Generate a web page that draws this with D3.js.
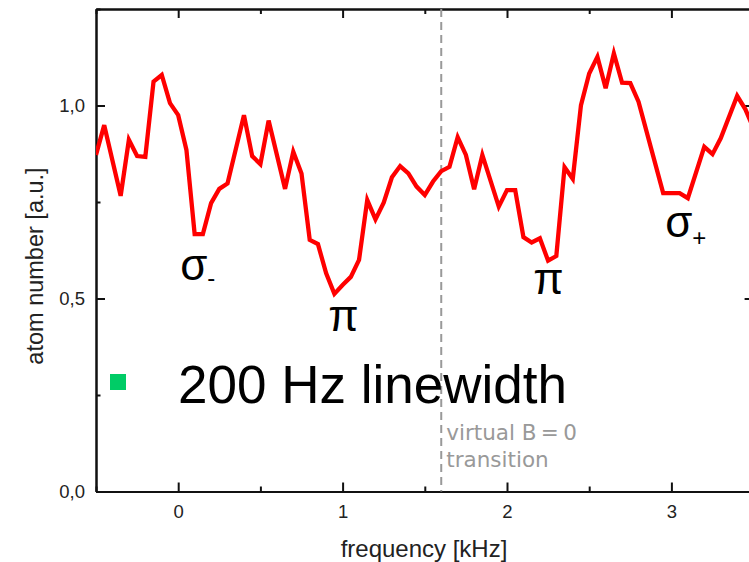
<!DOCTYPE html>
<html>
<head>
<meta charset="utf-8">
<script src="https://cdnjs.cloudflare.com/ajax/libs/d3/7.8.5/d3.min.js"></script>
<style>
  html, body { margin: 0; padding: 0; background: #fff; }
  svg { display: block; }
</style>
</head>
<body>
<script>
(function() {

// frequency in kHz, atom number in a.u.
var freq = [-0.50, -0.45, -0.35, -0.30, -0.25, -0.20, -0.15, -0.10, -0.05, 0.00,
            0.05, 0.10, 0.15, 0.20, 0.25, 0.30, 0.40, 0.45, 0.50, 0.55,
            0.65, 0.70, 0.75, 0.80, 0.85, 0.90, 0.95, 1.00, 1.05, 1.10,
            1.15, 1.20, 1.25, 1.30, 1.35, 1.40, 1.45, 1.50, 1.55, 1.60,
            1.65, 1.70, 1.75, 1.80, 1.85, 1.95, 2.00, 2.05, 2.10, 2.15,
            2.20, 2.25, 2.30, 2.35, 2.40, 2.45, 2.50, 2.55, 2.60, 2.65,
            2.70, 2.75, 2.80, 2.95, 3.05, 3.10, 3.20, 3.25, 3.30, 3.40,
            3.45, 3.50];
var atoms = [0.872, 0.949, 0.766, 0.911, 0.869, 0.867, 1.062, 1.079, 1.006, 0.975,
             0.885, 0.667, 0.667, 0.747, 0.784, 0.798, 0.975, 0.869, 0.848, 0.961,
             0.784, 0.880, 0.824, 0.652, 0.641, 0.565, 0.512, 0.535, 0.556, 0.600,
             0.755, 0.705, 0.748, 0.814, 0.843, 0.824, 0.790, 0.768, 0.803, 0.830,
             0.841, 0.918, 0.872, 0.783, 0.872, 0.738, 0.781, 0.781, 0.659, 0.645,
             0.656, 0.598, 0.610, 0.840, 0.810, 1.001, 1.083, 1.126, 1.045, 1.135,
             1.059, 1.058, 1.010, 0.773, 0.773, 0.760, 0.893, 0.874, 0.915, 1.025,
             0.990, 0.940];

var xMajor = [0, 1, 2, 3],
    xMinor = [-0.5, 0.5, 1.5, 2.5, 3.5],
    yMajor = [0, 0.5, 1.0],
    yMinor = [0.25, 0.75, 1.25];

// line labels: transition names at (kHz, a.u.)
var lines = [
  { name: "σ", sub: "-", f: 0.012, a: 0.548, dy: 6 },
  { name: "π", sub: "",  f: 0.912, a: 0.416, dy: 0 },
  { name: "π", sub: "",  f: 2.159, a: 0.512, dy: 0 },
  { name: "σ", sub: "+", f: 2.962, a: 0.660, dy: 9.5 }
];

var zeroField = 1.6,              // virtual B=0 transition, kHz
    legendText = "200 Hz linewidth";

var width = 749, height = 562,
    left = 96, right = 753.6, top = 9, bottom = 491.5,
    font = "'Liberation Sans', Arial, sans-serif";

var svg = d3.select("body").append("svg")
    .attr("width", width)
    .attr("height", height);

var x = d3.scaleLinear().domain([-0.5, 3.5]).range([left, right]),
    y = d3.scaleLinear().domain([0, 1.25]).range([bottom, top]);

var comma = d3.formatLocale({ decimal: ",", thousands: ".", grouping: [3], currency: ["", ""] })
              .format(".1f");

// axes: ticks point inwards on all four sides
function frame(g) {
  g.selectAll(".domain").attr("stroke", "#111").attr("stroke-width", 2);
  g.selectAll(".tick line").attr("stroke", "#111").attr("stroke-width", 2);
  g.selectAll("text").attr("font-family", font).attr("font-size", 18.5).attr("fill", "#222");
}

svg.append("g").attr("transform", "translate(0," + bottom + ")")
  .call(d3.axisBottom(x).tickValues(xMajor).tickSize(-9).tickSizeOuter(0).tickPadding(13)
          .tickFormat(d3.format("d")))
  .call(frame);
svg.append("g").attr("transform", "translate(0," + bottom + ")")
  .call(d3.axisBottom(x).tickValues(xMinor).tickSize(-5).tickSizeOuter(0).tickFormat(""))
  .call(frame);
svg.append("g").attr("transform", "translate(0," + top + ")")
  .call(d3.axisTop(x).tickValues(xMajor).tickSize(-9).tickSizeOuter(0).tickFormat(""))
  .call(frame);
svg.append("g").attr("transform", "translate(0," + top + ")")
  .call(d3.axisTop(x).tickValues(xMinor).tickSize(-5).tickSizeOuter(0).tickFormat(""))
  .call(frame);

svg.append("g").attr("transform", "translate(" + left + ",0)")
  .call(d3.axisLeft(y).tickValues(yMajor).tickSize(-9).tickSizeOuter(0).tickPadding(11)
          .tickFormat(comma))
  .call(frame);
svg.append("g").attr("transform", "translate(" + left + ",0)")
  .call(d3.axisLeft(y).tickValues(yMinor).tickSize(-4.5).tickSizeOuter(0).tickFormat(""))
  .call(frame);
svg.append("g").attr("transform", "translate(" + right + ",0)")
  .call(d3.axisRight(y).tickValues(yMajor).tickSize(-9).tickSizeOuter(0).tickFormat(""))
  .call(frame);
svg.append("g").attr("transform", "translate(" + right + ",0)")
  .call(d3.axisRight(y).tickValues(yMinor).tickSize(-4.5).tickSizeOuter(0).tickFormat(""))
  .call(frame);

// axis titles
svg.append("text")
  .attr("x", 424).attr("y", 557)
  .attr("text-anchor", "middle")
  .attr("font-family", font).attr("font-size", 24).attr("fill", "#222")
  .text("frequency [kHz]");

svg.append("text")
  .attr("transform", "translate(43,266) rotate(-90)")
  .attr("text-anchor", "middle")
  .attr("font-family", font).attr("font-size", 23.5).attr("fill", "#222")
  .text("atom number [a.u.]");

// dashed marker at the B=0 transition
svg.append("line")
  .attr("x1", x(zeroField)).attr("x2", x(zeroField))
  .attr("y1", top).attr("y2", bottom)
  .attr("stroke", "#999").attr("stroke-width", 2)
  .attr("stroke-dasharray", "8,5");

var note = svg.append("text")
  .attr("font-family", "'DejaVu Sans', sans-serif").attr("font-size", 21.5)
  .attr("fill", "#999");
note.append("tspan").attr("x", x(zeroField) + 5).attr("y", 440).text("virtual B\u2009=\u20090");
note.append("tspan").attr("x", x(zeroField) + 5).attr("y", 467).text("transition");

// the trace
var pts = freq.map(function(f, i) { return [f, atoms[i]]; });

svg.append("clipPath").attr("id", "plot")
  .append("rect").attr("x", left).attr("y", top)
  .attr("width", right - left).attr("height", bottom - top);

svg.append("path")
  .datum(pts)
  .attr("clip-path", "url(#plot)")
  .attr("fill", "none")
  .attr("stroke", "#ff0000")
  .attr("stroke-width", 4.3)
  .attr("stroke-linejoin", "miter")
  .attr("d", d3.line()
    .x(function(d) { return x(d[0]); })
    .y(function(d) { return y(d[1]); }));

// transition labels
lines.forEach(function(l) {
  var t = svg.append("text")
    .attr("x", x(l.f)).attr("y", y(l.a))
    .attr("font-family", font).attr("font-size", 44).attr("fill", "#000");
  t.append("tspan").text(l.name);
  if (l.sub)
    t.append("tspan").attr("font-size", 24).attr("dy", l.dy).text(l.sub);
});

// legend
svg.append("rect")
  .attr("x", 110).attr("y", 374).attr("width", 16).attr("height", 16)
  .attr("fill", "#00cc66");
svg.append("text")
  .attr("x", 178).attr("y", 403)
  .attr("font-family", font).attr("font-size", 53).attr("fill", "#000")
  .text(legendText);

})();
</script>
</body>
</html>
